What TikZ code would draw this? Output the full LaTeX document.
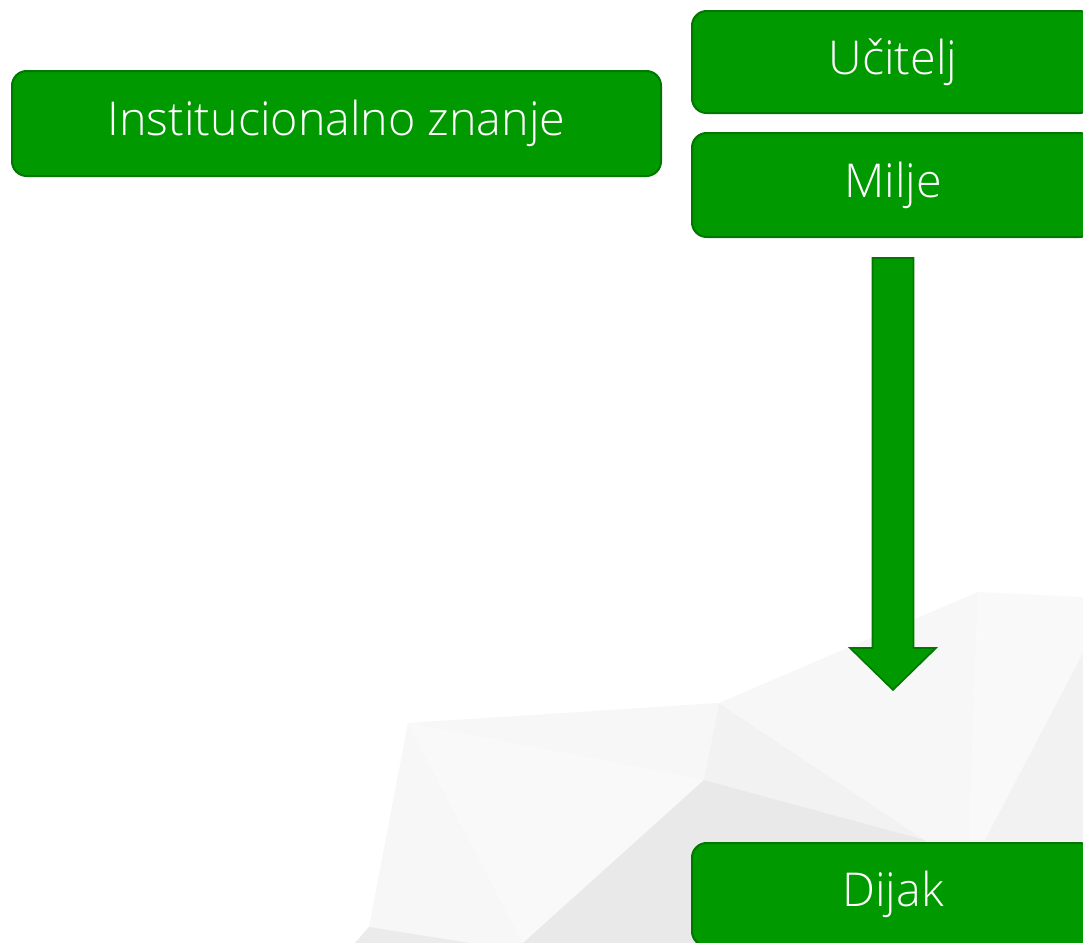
\documentclass[tikz,border=0pt]{standalone}
\usepackage{fontspec}
\setmainfont{Open Sans}[UprightFont=* Light]
\usetikzlibrary{positioning,calc}

\definecolor{boxgreen}{HTML}{009900}
\definecolor{boxedge}{HTML}{007700}

\tikzset{
  greenbox/.style={draw=boxedge, line width=1.5pt, fill=boxgreen, rounded corners=11pt,
    text=white, font=\fontsize{35}{40}\selectfont, align=center, inner sep=0pt},
  facet/.style={draw=none}
}

\begin{document}
\begin{tikzpicture}[x=0.75pt, y=-0.75pt]
    \useasboundingbox (0,0) rectangle (1083,943);
    \clip (0,0) rectangle (1083,943);

    % Background facets
    \fill[white] (0,0) rectangle (1083,943);
    \fill[facet, fill=black!3] (408,723) -- (719,703) -- (704,780) -- cycle;
    \fill[facet, fill=black!3] (408,723) -- (523,943) -- (355,943) -- (369,927) -- cycle;
    \fill[facet, fill=black!2.5] (408,723) -- (704,780) -- (523,943) -- cycle;
    \fill[facet, fill=black!8] (369,927) -- (470,943) -- (355,943) -- cycle;
    \fill[facet, fill=black!5] (719,703) -- (925,840) -- (704,780) -- cycle;
    \fill[facet, fill=black!8.5] (704,780) -- (925,840) -- (925,943) -- (523,943) -- cycle;
    \fill[facet, fill=black!3] (719,703) -- (978,592) -- (969,840) -- (925,840) -- cycle;
    \fill[facet, fill=black!2.5] (978,592) -- (1083,597) -- (1083,653) -- (985,840) -- (969,840) -- cycle;
    \fill[facet, fill=black!5] (1083,653) -- (1083,943) -- (925,943) -- (925,840) -- (985,840) -- cycle;

    % Boxes
    \node[greenbox, minimum width=649*0.75pt, minimum height=105*0.75pt] (znanje) at (336.5,123.5) {Institucionalno znanje};
    \node[greenbox, minimum width=402*0.75pt, minimum height=102*0.75pt] (ucitelj) at (893,62) {Učitelj};
    \node[greenbox, minimum width=402*0.75pt, minimum height=104*0.75pt, below=18*0.75pt of ucitelj] (milje) {Milje};
    \node[greenbox, minimum width=402*0.75pt, minimum height=103*0.75pt] (dijak) at (893,894.5) {Dijak};

    % Block arrow
    \coordinate (atop) at ($(milje.south)+(0,20)$);
    \coordinate (atip) at ($(dijak.north)+(0,-152)$);
    \draw[draw=boxedge, line width=1.2pt, fill=boxgreen]
      ($(atop)+(-20.5,0)$) -- ($(atop)+(20.5,0)$) -- ($(atip)+(20.5,-42)$) -- ($(atip)+(43,-42)$)
      -- (atip) -- ($(atip)+(-43,-42)$) -- ($(atip)+(-20.5,-42)$) -- cycle;
\end{tikzpicture}
\end{document}
